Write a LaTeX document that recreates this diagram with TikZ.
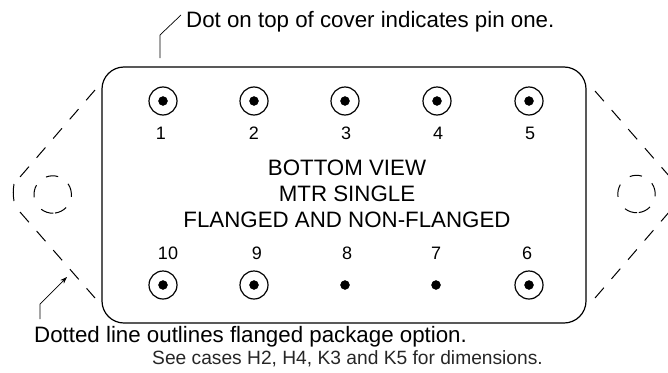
\documentclass[tikz,border=0pt]{standalone}
\usepackage{fontspec}
\setmainfont{Liberation Sans}
\usetikzlibrary{arrows.meta}

\begin{document}
\begin{tikzpicture}[x=1pt,y=-1pt]
    % `pinring' is the ring round a pin, `pindot' the pin itself.
    % `flange' is used for the dashed outline of the package option.
    \tikzstyle{pinring} = [draw,shape=circle,line width=1.2pt,minimum size=28pt,inner sep=0pt]
    \tikzstyle{pindot} = [draw,fill,shape=circle,minimum size=9pt,inner sep=0pt]
    \tikzstyle{pinlabel} = [inner sep=0pt,font=\fontsize{18}{20}\selectfont]
    \tikzstyle{flange} = [draw,line width=1pt,dash pattern=on 13.5pt off 11.8pt]
    \tikzstyle{hole} = [draw,line width=1pt]
    \tikzstyle{leader} = [draw,line width=0.7pt]
    \tikzstyle{notelabel} = [inner sep=0pt,anchor=base west]
    %
    \clip (0,0) rectangle (668,372);
    % Package body.
    \node[draw,line width=1.2pt,rounded corners=22pt,minimum width=484pt,minimum height=256pt,inner sep=0pt] (body) at (344,195) {};
    % Pins with a ring.
    \foreach \name/\x/\y in {p1/163/101,p2/254/101,p3/345/101,p4/437/101,p5/529/101,p10/163/285,p9/254/285,p6/529/285} {
      \node[pinring] (\name ring) at (\x,\y) {};
      \node[pindot] (\name) at (\x,\y) {};
    }
    % Pins without a ring.
    \node[pindot] (p8) at (345,285) {};
    \node[pindot] (p7) at (436,285) {};
    % Pin numbers.
    \foreach \txt/\x/\y in {1/161/133,2/254/133,3/346/133,4/438/133,5/530/133,10/168/253,9/257/253,8/347/253,7/436/253,6/527/253} {
      \node[pinlabel] (n\txt) at (\x,\y) {\txt};
    }
    % Title.
    \node[align=center,inner sep=0pt,font=\fontsize{22.3}{26}\selectfont] (title) at (347,194) {BOTTOM VIEW\\MTR SINGLE\\FLANGED AND NON-FLANGED};
    % Flange outlines.
    \coordinate (lefttop) at (95,90);
    \coordinate (lefttip) at (20,177);
    \coordinate (leftlow) at (20,212);
    \coordinate (leftbot) at (95,298);
    \coordinate (righttop) at (595,91);
    \coordinate (righttip) at (670,177);
    \coordinate (rightlow) at (670,211);
    \coordinate (rightbot) at (595,298);
    \path[flange] (lefttop) -- (lefttip);
    \path[flange] (leftlow) -- (leftbot);
    \path[flange] (righttop) -- (righttip);
    \path[flange] (rightbot) -- (rightlow);
    \path[hole] (14,184) .. controls (13,190) and (13,195) .. (14,201);
    % Holes in the flange, five dashes each.
    \coordinate (lefthole) at (52.7,194.5);
    \coordinate (righthole) at (636.5,194);
    \foreach \from/\to in {-111/-73,-35/7,44/83,88/128,171/210} {
      \path[hole] (lefthole) ++(\from:18.7) arc[start angle=\from,end angle=\to,radius=18.7];
      \path[hole] (righthole) ++(\from:18.7) arc[start angle=\from,end angle=\to,radius=18.7];
    }
    % Notes and their leaders.
    \node[notelabel,font=\fontsize{22.3}{26}\selectfont] (topnote) at (186,27) {Dot on top of cover indicates pin one.};
    \node[notelabel,font=\fontsize{22.3}{26}\selectfont] (dashnote) at (34,342) {Dotted line outlines flanged package option.};
    \node[notelabel,font=\fontsize{19.2}{22}\selectfont,text=black!85] (seenote) at (152,364) {See cases H2, H4, K3 and K5 for dimensions.};
    \coordinate (topstart) at (160,58);
    \coordinate (topbend) at (160,35);
    \coordinate (topend) at (181,15);
    \path[leader] (topstart) -- (topbend) -- (topend);
    \coordinate (botstart) at (40,319);
    \coordinate (botbend) at (40,304);
    \coordinate (botend) at (67,277);
    \path[leader,-{Stealth[length=7pt,width=5pt]}] (botstart) -- (botbend) -- (botend);
\end{tikzpicture}
\end{document}
